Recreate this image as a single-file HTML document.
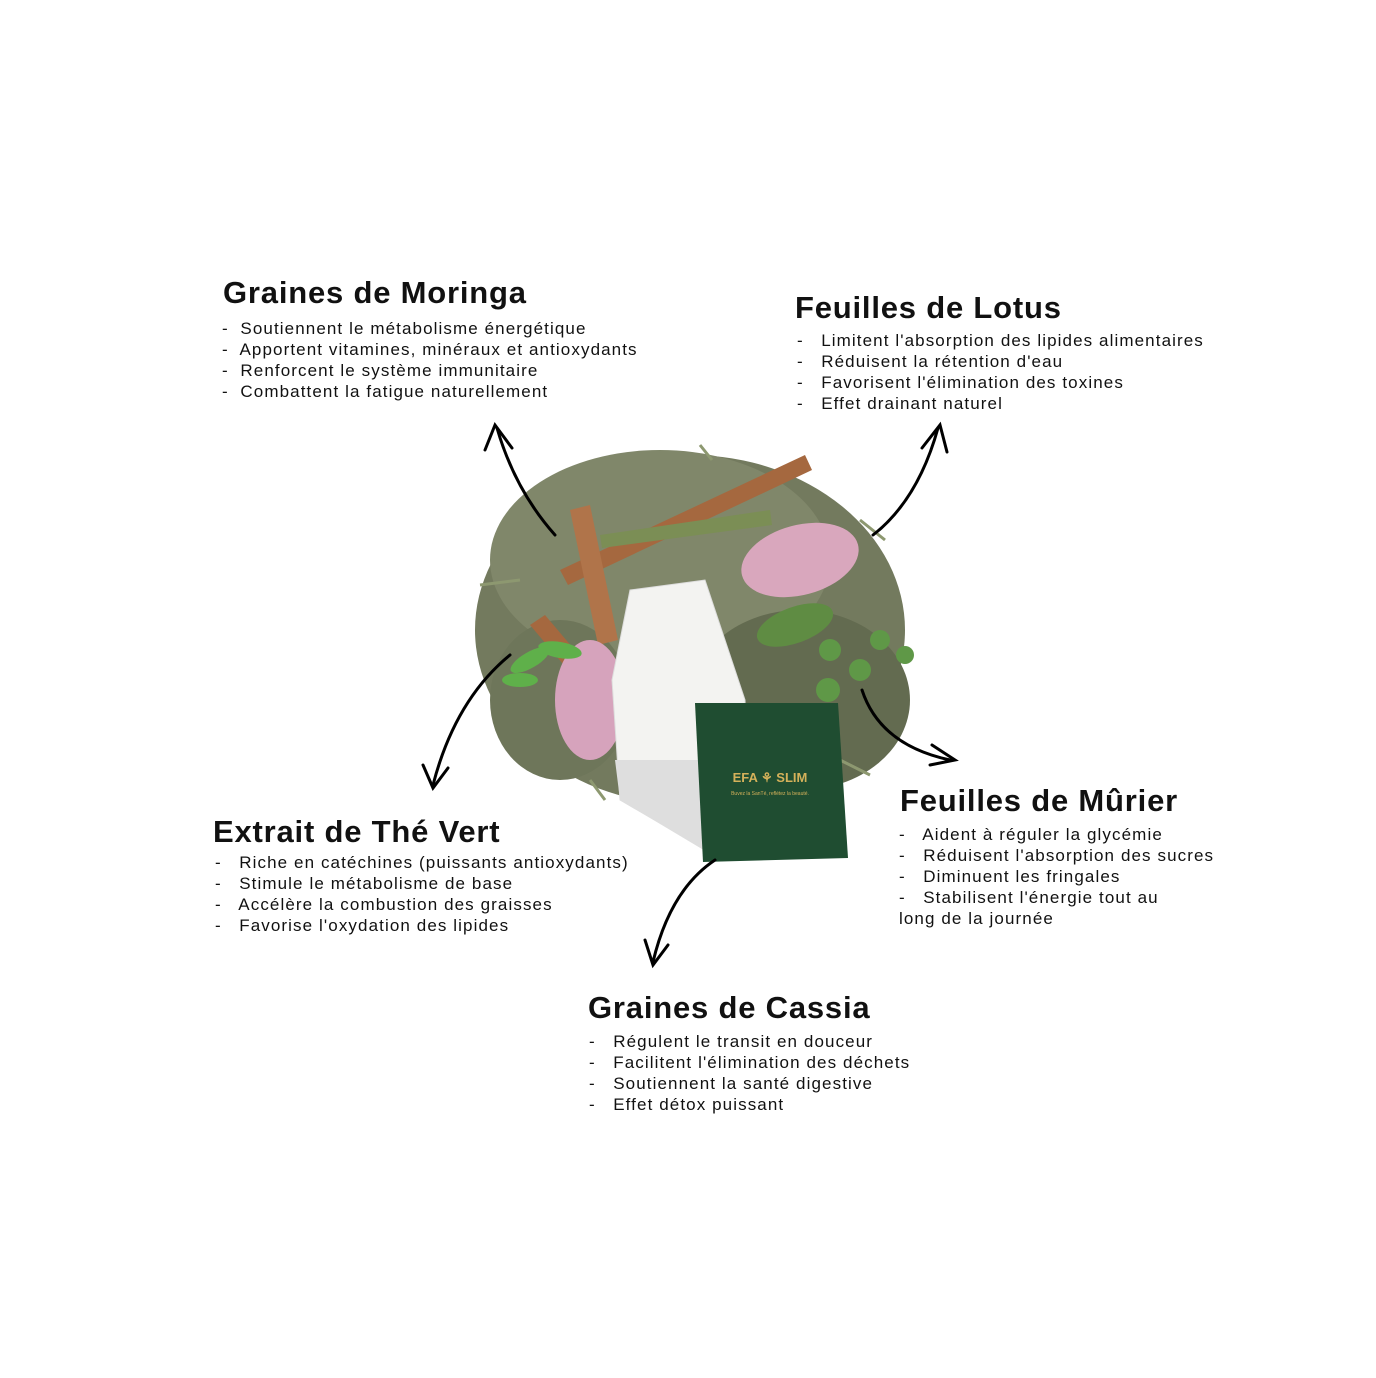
<!DOCTYPE html>
<html><head><meta charset="utf-8"><style>
body{margin:0;width:1376px;height:1378px;background:#fff;position:relative;overflow:hidden;font-family:"Liberation Sans",sans-serif;color:#111}
.h{position:absolute;font-weight:bold;font-size:31px;line-height:34px;white-space:nowrap;letter-spacing:0.8px}
.b{position:absolute;font-size:17px;line-height:21px;white-space:pre;letter-spacing:1.1px}
svg{position:absolute;left:0;top:0}
</style></head><body>
<svg width="1376" height="1378" viewBox="0 0 1376 1378">
<!-- herb pile -->
<ellipse cx="690" cy="630" rx="215" ry="175" fill="#737a5e"/>
<ellipse cx="660" cy="560" rx="170" ry="110" fill="#80876a"/>
<ellipse cx="800" cy="700" rx="110" ry="90" fill="#636b50"/>
<ellipse cx="560" cy="700" rx="70" ry="80" fill="#6e765a"/>
<g stroke="#8d9870" stroke-width="3">
<path d="M480,585 L520,580"/><path d="M700,445 L712,460"/><path d="M860,520 L885,540"/><path d="M840,760 L870,775"/><path d="M590,780 L605,800"/>
</g>
<!-- cinnamon -->
<path d="M560,570 L805,455 L812,470 L568,585Z" fill="#a5683f"/>
<path d="M570,510 L590,505 L618,640 L598,645Z" fill="#b0744a"/>
<path d="M530,625 L545,615 L600,680 L585,690Z" fill="#a5683f"/>
<path d="M600,535 L770,510 L772,525 L602,548Z" fill="#7b8e55"/>
<!-- petals -->
<ellipse cx="800" cy="560" rx="60" ry="35" transform="rotate(-15 800 560)" fill="#d9a7bd"/>
<ellipse cx="590" cy="700" rx="35" ry="60" fill="#d6a3bc"/>
<ellipse cx="795" cy="625" rx="40" ry="18" transform="rotate(-20 795 625)" fill="#5f8c43"/>
<g fill="#5f9847"><circle cx="830" cy="650" r="11"/><circle cx="860" cy="670" r="11"/><circle cx="828" cy="690" r="12"/><circle cx="880" cy="640" r="10"/><circle cx="905" cy="655" r="9"/></g>
<g fill="#5fb04a"><ellipse cx="530" cy="660" rx="22" ry="8" transform="rotate(-30 530 660)"/><ellipse cx="560" cy="650" rx="22" ry="8" transform="rotate(10 560 650)"/><ellipse cx="520" cy="680" rx="18" ry="7"/></g>
<!-- teabag -->
<path d="M630,590 L705,580 L745,700 L748,800 L715,855 L620,800 L612,680Z" fill="#f3f3f1" stroke="#ddd"/>
<path d="M615,760 L712,760 L740,800 L712,855 L620,800Z" fill="#dedede"/>
<!-- card -->
<path d="M695,703 L838,703 L848,858 L703,862Z" fill="#1f4d31"/>
<text x="770" y="782" font-family="Liberation Sans" font-weight="bold" font-size="13" fill="#d4b15a" text-anchor="middle">EFA ⚘ SLIM</text>
<text x="770" y="795" font-family="Liberation Sans" font-size="5" fill="#d4b15a" text-anchor="middle">Buvez la SanTé, reflétez la beauté.</text>
<!-- arrows -->
<g fill="none" stroke="#000" stroke-width="3" stroke-linecap="round">
<path d="M555,535 Q515,490 497,428"/><path d="M485,450 L495,425 L512,448"/>
<path d="M873,535 Q918,500 938,428"/><path d="M922,448 L940,425 L947,452"/>
<path d="M510,655 Q455,700 433,785"/><path d="M423,765 L433,788 L448,768"/>
<path d="M862,690 Q880,745 950,760"/><path d="M932,745 L955,760 L930,765"/>
<path d="M715,860 Q670,890 653,962"/><path d="M645,940 L653,965 L668,945"/>
</g>
</svg>
<div class="h" style="left:223px;top:276px">Graines de Moringa</div>
<div class="b" style="left:222px;top:318px">-  Soutiennent le métabolisme énergétique
-  Apportent vitamines, minéraux et antioxydants
-  Renforcent le système immunitaire
-  Combattent la fatigue naturellement</div>
<div class="h" style="left:795px;top:291px">Feuilles de Lotus</div>
<div class="b" style="left:797px;top:330px">-   Limitent l'absorption des lipides alimentaires
-   Réduisent la rétention d'eau
-   Favorisent l'élimination des toxines
-   Effet drainant naturel</div>
<div class="h" style="left:213px;top:815px">Extrait de Thé Vert</div>
<div class="b" style="left:215px;top:852px">-   Riche en catéchines (puissants antioxydants)
-   Stimule le métabolisme de base
-   Accélère la combustion des graisses
-   Favorise l'oxydation des lipides</div>
<div class="h" style="left:900px;top:784px">Feuilles de Mûrier</div>
<div class="b" style="left:899px;top:824px">-   Aident à réguler la glycémie
-   Réduisent l'absorption des sucres
-   Diminuent les fringales
-   Stabilisent l'énergie tout au
long de la journée</div>
<div class="h" style="left:588px;top:991px">Graines de Cassia</div>
<div class="b" style="left:589px;top:1031px">-   Régulent le transit en douceur
-   Facilitent l'élimination des déchets
-   Soutiennent la santé digestive
-   Effet détox puissant</div>
</body></html>
